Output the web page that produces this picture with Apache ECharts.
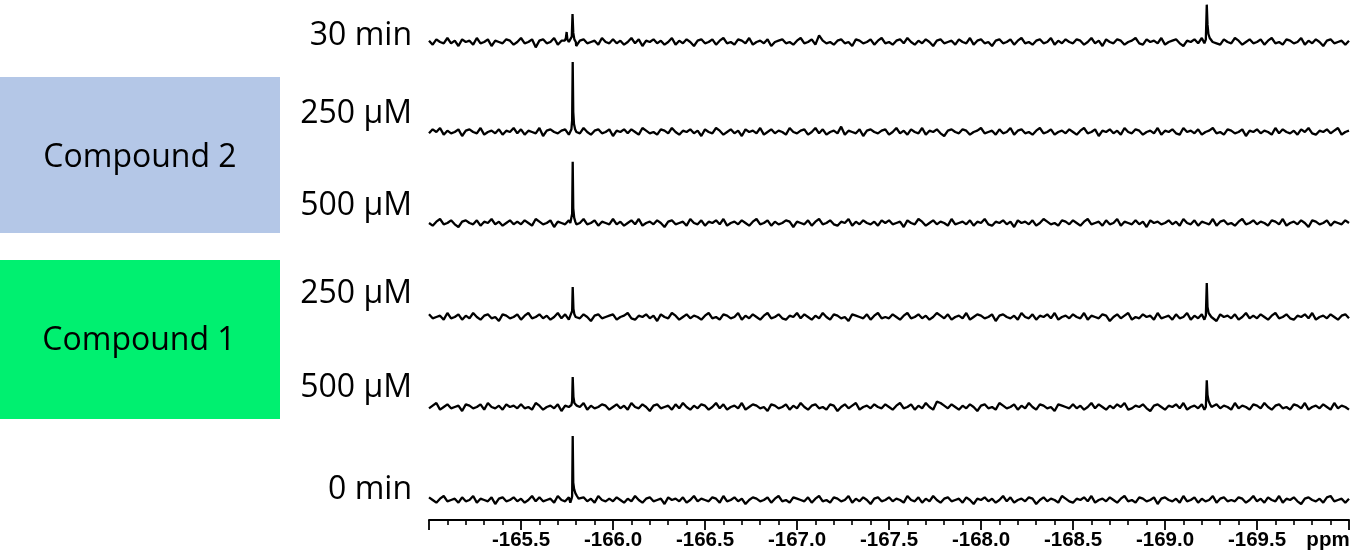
<!DOCTYPE html>
<html>
<head>
<meta charset="utf-8">
<script src="https://cdn.jsdelivr.net/npm/echarts@6/dist/echarts.min.js"></script>
<style>
html,body{margin:0;padding:0;background:#fff;}
#chart{width:1357px;height:558px;}
</style>
</head>
<body>
<div id="chart"></div>
<script>
// ---- sampling grid of the noise arrays (ppm) ----
const PPM_START = -165.0;
const PPM_STEP = 0.02;

// ---- trace labels, top to bottom ----
const TRACE_LABELS = ['30 min', '250 μM', '500 μM', '250 μM', '500 μM', '0 min'];
const GROUP_LABELS = ['Compound 2', 'Compound 1'];

// ---- x-axis ----
const X_MIN = -170.0;
const X_MAX = -165.0;
const X_INTERVAL = 0.5;
const X_UNIT = 'ppm';

// ---- baseline noise (arbitrary intensity units), one value per 0.02 ppm ----
const NOISE_30MIN = [
 1,-2,2,0,-1,3,-1,1,-3,2,0,1,-2,3,-1,0,2,-3,1,0,-1,2,1,-2,0,
 3,-1,0,2,-4,1,2,-1,0,3,-2,1,-1,2,0,-3,1,2,-1,0,1,-2,3,0,-1,
 2,-1,1,-2,0,3,-1,2,-3,1,0,2,-1,1,-2,0,3,-2,1,-1,2,0,-3,1,2,
 -1,0,2,-2,1,3,-1,0,-2,2,1,-1,3,-2,0,1,-1,2,-3,0,1,2,-1,0,-2,
 1,3,-1,0,2,-2,5,1,-1,0,-2,1,2,-1,0,-3,2,1,-1,0,2,-2,1,3,-1,
 0,-2,1,2,-1,3,0,-2,1,-1,2,0,-3,1,2,-1,0,1,-2,2,0,-1,3,-2,1,
 2,-1,0,-3,1,2,-1,0,2,-2,1,3,-1,0,-2,1,2,-1,0,3,-2,1,-1,2,0,
 -1,2,1,-2,0,3,-1,1,-3,2,0,-1,2,1,-2,0,1,3,-1,-2,2,0,1,-1,3,
 -2,0,1,2,-1,-3,1,0,2,-1,3,-2,0,1,-1,-2,2,0,-1,3,1,-2,0,2,-1,
 0,2,-2,1,3,-1,0,-2,2,1,-1,0,3,-2,1,-1,2,0,-3,1,2,-1,0,1,-2,
 1
];
const NOISE_250_C2 = [
 -1,2,0,3,-2,1,-1,0,2,-3,1,2,0,-1,3,-2,0,1,-1,2,-2,1,0,3,-1,
 2,-2,1,0,-1,3,-3,1,2,0,-1,1,2,-2,0,1,-1,3,0,-2,1,2,-1,0,2,
 -3,1,0,2,-1,2,0,-2,3,1,-1,0,-2,2,1,-1,3,0,-2,1,0,2,-1,1,-3,
 2,0,-1,3,1,-2,0,2,-1,1,-3,2,0,1,-1,3,-2,0,2,-1,1,0,-2,3,0,
 -1,1,2,-2,0,3,-1,2,-2,0,1,-1,4,-2,1,0,-1,2,-3,1,2,0,-1,1,2,
 -2,0,3,-1,1,-2,2,0,-1,3,-2,1,0,2,-1,-3,1,2,0,-1,2,1,-2,0,1,
 3,-1,0,1,-2,2,-1,0,3,-2,1,2,-1,0,-2,1,3,-1,0,2,-2,0,1,-1,2,
 0,-2,1,3,-1,0,2,-3,1,0,2,-1,1,-2,3,0,-1,2,1,-2,0,1,-1,3,-2,
 1,0,2,-1,-2,3,0,1,-1,2,-2,0,1,3,-1,0,-2,2,1,-1,0,2,-3,1,0,
 2,-1,1,0,-2,3,-1,2,0,-1,1,-2,2,0,3,-1,-2,1,0,2,-1,1,3,-2,0,
 1
];
const NOISE_500_C2 = [
 0,-2,1,3,-1,0,2,-1,-3,1,2,0,-1,2,-2,1,0,3,-1,1,-2,0,2,-1,1,
 -1,2,0,-2,3,1,-1,0,2,-3,1,0,-1,2,1,-2,0,3,-1,0,2,-2,1,0,-1,
 3,-1,1,-2,0,2,-1,3,-2,0,1,-1,2,0,-3,1,2,-1,0,1,-2,3,0,-1,2,
 -2,1,0,2,-1,3,-2,0,1,-1,2,0,-2,1,3,-1,0,2,-2,1,-1,0,2,1,-3,
 1,0,-1,2,-2,1,3,-1,0,2,-1,-2,1,0,3,-2,1,-1,2,0,-1,1,-2,2,0,
 2,-1,0,1,-3,2,0,-1,3,1,-2,0,2,-1,1,0,-2,3,-1,0,1,-1,2,-2,1,
 0,3,-1,-2,1,0,2,-1,1,-3,2,0,1,-1,2,-2,0,3,1,-1,0,-2,2,1,-1,
 2,0,-2,1,3,-1,0,1,-2,2,-1,0,3,-2,1,0,-1,2,-1,1,-3,2,0,1,-1,
 0,2,-1,1,-2,3,0,-1,2,-2,1,0,-1,3,-2,1,2,-1,0,-2,1,3,-1,0,2,
 -1,1,0,-2,2,1,-1,3,-2,0,1,-1,2,0,-3,2,1,-1,0,2,-2,1,0,-1,2,
 0
];
const NOISE_250_C1 = [
 2,-1,0,1,-2,3,-1,0,2,-2,1,-1,3,0,-2,1,2,-1,0,-3,2,1,-1,0,2,
 -2,1,3,-1,0,2,-1,1,-2,0,3,-1,2,-2,1,0,-1,2,0,-3,1,2,-1,0,1,
 2,-2,0,1,3,-1,-2,1,0,2,-1,1,-3,2,0,-1,3,1,-2,0,2,-1,1,0,-2,
 1,3,-1,0,-2,2,1,-1,0,3,-2,1,-1,2,0,-2,1,3,-1,0,2,-1,-2,1,0,
 3,-1,2,0,-2,1,-1,3,0,-2,2,1,-1,0,-3,2,1,0,-1,2,-2,1,3,-1,0,
 -1,2,0,-2,1,3,-1,0,2,-1,1,-2,0,3,1,-1,2,-2,0,1,-1,3,-2,0,2,
 1,-1,0,2,-3,1,2,0,-1,1,-2,3,0,-1,2,-2,1,0,2,-1,3,-2,0,1,-1,
 2,0,-1,3,-2,1,0,-1,2,1,-3,0,2,-1,1,3,-2,0,-1,2,0,1,-2,3,-1,
 0,1,-2,2,-1,0,3,-2,1,-1,2,0,-1,1,-3,2,0,1,-1,2,-2,0,3,-1,1,
 -1,2,0,-2,1,3,-1,0,2,-1,-2,1,0,2,-1,3,-2,0,1,-1,2,0,-2,1,2,
 -1
];
const NOISE_500_C1 = [
 -1,1,3,-2,0,2,-1,0,1,-3,2,1,-1,0,2,-2,3,0,-1,1,-2,2,0,1,-1,
 2,-1,0,-2,3,1,-2,0,1,-1,2,-3,1,0,2,-1,0,3,-2,1,-1,0,2,1,-2,
 0,2,-1,1,-2,3,0,-1,2,0,-3,1,2,-1,0,1,-2,2,-1,3,0,-2,1,-1,2,
 1,-2,0,3,-1,2,-2,0,1,-1,3,-2,0,2,1,-1,0,-3,2,1,-1,0,2,-2,1,
 -1,3,0,-2,1,2,-1,0,-2,2,1,-3,0,2,-1,1,3,-2,0,1,-1,2,0,-1,2,
 0,-2,1,3,-1,0,2,-2,1,-1,3,0,-2,4,3,1,-1,2,0,-2,1,-1,2,0,-3,
 1,2,-1,0,-2,3,1,-1,0,2,-2,1,-1,3,0,-2,2,1,-1,0,-3,2,1,0,-1,
 2,-1,1,-2,0,3,-1,2,0,-2,1,-1,2,0,3,-2,-1,1,0,2,-1,-3,1,2,0,
 -2,1,0,2,-1,3,-2,0,1,-1,2,1,-3,0,2,-1,1,0,-2,3,-1,1,0,-2,2,
 1,-1,3,0,-2,1,2,-1,0,-2,2,1,-1,3,-2,0,1,-1,2,0,-2,3,-1,1,0,
 -2
];
const NOISE_0MIN = [
 2,0,-2,1,3,-1,0,1,-2,2,-1,0,3,-2,1,0,-1,2,-3,1,2,-1,0,2,-1,
 1,-2,0,3,-1,2,-1,0,1,-2,3,0,-1,2,-3,1,0,2,-1,1,-2,3,0,-1,1,
 -1,2,0,-2,1,-1,3,0,-2,1,2,-1,0,1,-3,2,0,1,-1,2,-2,0,3,-1,1,
 0,-1,2,1,-2,3,-1,0,2,-1,1,-3,0,2,1,-1,0,2,-2,1,3,-1,0,-2,2,
 1,0,-1,2,-2,1,3,-1,0,-2,2,1,-1,0,3,-2,1,-1,2,0,-3,1,2,-1,0,
 2,-1,1,0,-2,3,0,-1,2,-2,1,-1,3,0,-2,1,2,-1,0,1,-2,2,0,-3,1,
 0,2,-1,1,-2,0,3,-1,2,-2,0,1,-1,2,1,-3,0,2,-1,1,0,-2,3,1,-1,
 -2,1,0,2,-1,3,-2,0,1,-1,2,0,-2,1,3,-1,0,-2,2,1,-1,0,2,-3,1,
 2,0,-1,1,-2,3,-1,0,2,-2,1,-1,0,3,-2,1,2,-1,0,-1,2,1,-2,0,3,
 -1,1,-2,2,0,-1,3,-2,1,0,2,-1,-3,1,2,0,-1,1,-2,2,3,-1,0,1,-2,
 1
];

// ---- resonances [ppm, intensity] (same units) ----
const PEAKS_30MIN = [
 [[-165.738,1],[-165.744,3],[-165.748,7.5],[-165.752,2],[-165.760,0],[-165.770,1.5],[-165.776,4],[-165.780,21],[-165.784,7],[-165.790,2],[-165.798,0]],
 [[-169.214,-1],[-169.222,2],[-169.227,28],[-169.231,13],[-169.236,6],[-169.243,3],[-169.251,1.5],[-169.259,0]]
];
const PEAKS_250_C2 = [
 [[-165.768,-1],[-165.774,2],[-165.778,9],[-165.781,52.5],[-165.784,15],[-165.788,6],[-165.794,2],[-165.801,0]]
];
const PEAKS_500_C2 = [
 [[-165.768,0],[-165.774,1.5],[-165.778,7],[-165.781,46],[-165.784,11],[-165.789,4],[-165.795,1],[-165.801,-1]]
];
const PEAKS_250_C1 = [
 [[-165.768,1],[-165.774,2],[-165.778,4.5],[-165.781,22.5],[-165.785,6],[-165.790,2],[-165.797,0]],
 [[-169.214,-2],[-169.222,1],[-169.227,25.5],[-169.231,7.5],[-169.237,3],[-169.245,1.5],[-169.252,0]]
];
const PEAKS_500_C1 = [
 [[-165.768,-1],[-165.774,1.5],[-165.778,4.5],[-165.781,22.5],[-165.785,7.5],[-165.790,3],[-165.796,4.5],[-165.803,1]],
 [[-169.214,-2],[-169.222,0],[-169.227,20],[-169.231,9],[-169.237,4.5],[-169.245,2],[-169.253,0]]
];
const PEAKS_0MIN = [
 [[-165.768,-2],[-165.775,1],[-165.778,3],[-165.781,48],[-165.784,13],[-165.789,8],[-165.796,5],[-165.804,3],[-165.813,1]]
];

const NOISE = [NOISE_30MIN, NOISE_250_C2, NOISE_500_C2, NOISE_250_C1, NOISE_500_C1, NOISE_0MIN];
const PEAKS = [PEAKS_30MIN, PEAKS_250_C2, PEAKS_500_C2, PEAKS_250_C1, PEAKS_500_C1, PEAKS_0MIN];

function buildTrace(noise, peaks) {
  const ranges = peaks.map(p => [Math.min(...p.map(q => q[0])), Math.max(...p.map(q => q[0]))]);
  const pts = [];
  noise.forEach((v, i) => {
    const x = +(PPM_START - i * PPM_STEP).toFixed(3);
    if (!ranges.some(r => x >= r[0] && x <= r[1])) pts.push([x, v]);
  });
  peaks.forEach(p => p.forEach(q => pts.push(q)));
  pts.sort((a, b) => b[0] - a[0]);
  return pts;
}

// ---- layout (pixels) ----
const BASELINES = [42, 132, 223, 317, 407, 500];
const Y_MIN = -15, Y_MAX = 60;   // intensity window of each trace
const TRACE_H = 100;             // px per trace window
const CH = 558;
const LABEL_Y = [36, 114, 206, 294, 388, 490];

const chart = echarts.init(document.getElementById('chart'), null, {renderer: 'canvas'});

const belowPx = -Y_MIN * TRACE_H / (Y_MAX - Y_MIN);
const grids = [], xAxes = [], yAxes = [], series = [];
BASELINES.forEach((b, k) => {
  const last = k === BASELINES.length - 1;
  grids.push({left: 429, right: 8, bottom: CH - (b + belowPx), height: TRACE_H, containLabel: false, outerBoundsMode: 'none'});
  xAxes.push({
    gridIndex: k, type: 'value', min: X_MIN, max: X_MAX, interval: X_INTERVAL, inverse: true,
    show: last,
    splitLine: {show: false},
    axisLine: {show: last, onZero: false, lineStyle: {color: '#000', width: 2}},
    axisTick: {show: last, length: 10, lineStyle: {color: '#000', width: 1.8}},
    minorTick: {show: last, splitNumber: 5, length: 5, lineStyle: {color: '#000', width: 1.6}},
    axisLabel: {
      show: last, margin: 10, showMinLabel: true, showMaxLabel: true,
      color: '#000', fontFamily: 'Liberation Sans', fontWeight: 'bold', fontSize: 20.5,
      formatter: v => (Math.abs(v - X_MIN) < 1e-9 ? '{p|' + X_UNIT + '}' : (Math.abs(v - X_MAX) < 1e-9 ? '' : v.toFixed(1))),
      rich: {p: {fontFamily: 'Liberation Sans', fontWeight: 'bold', fontSize: 20.5, color: '#000', padding: [0, 42, 0, 0]}}
    }
  });
  yAxes.push({gridIndex: k, type: 'value', min: Y_MIN, max: Y_MAX, show: false, splitLine: {show: false}});
  series.push({
    type: 'line', xAxisIndex: k, yAxisIndex: k, data: buildTrace(NOISE[k], PEAKS[k]),
    showSymbol: false, symbol: 'none', lineStyle: {color: '#000', width: 2.3}, clip: false,
    silent: true, animation: false
  });
});

const FONT = '32px "Open Sans"';
const graphics = [
  {type: 'rect', left: 0, top: 77, shape: {width: 280, height: 156}, style: {fill: '#B4C7E7'}, z: 0},
  {type: 'rect', left: 0, top: 260, shape: {width: 280, height: 159}, style: {fill: '#00F070'}, z: 0},
  {type: 'text', x: 140, y: 158, style: {text: GROUP_LABELS[0], fill: '#000', font: FONT, textAlign: 'center', textVerticalAlign: 'middle'}, z: 2},
  {type: 'text', x: 139, y: 341, style: {text: GROUP_LABELS[1], fill: '#000', font: FONT, textAlign: 'center', textVerticalAlign: 'middle'}, z: 2}
];
TRACE_LABELS.forEach((t, k) => {
  graphics.push({type: 'text', x: 412, y: LABEL_Y[k], style: {text: t, fill: '#000', font: FONT, textAlign: 'right', textVerticalAlign: 'middle'}, z: 2});
});

chart.setOption({
  animation: false,
  backgroundColor: '#fff',
  grid: grids, xAxis: xAxes, yAxis: yAxes, series: series,
  graphic: graphics
});
</script>
</body>
</html>
